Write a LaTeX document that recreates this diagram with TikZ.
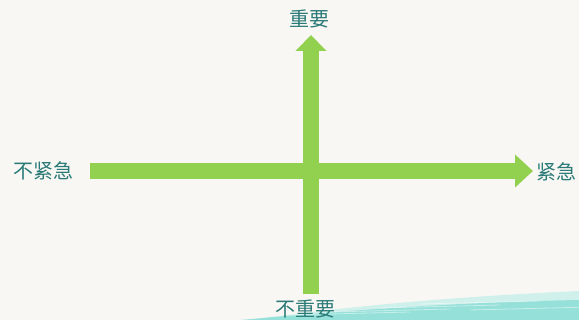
\documentclass[tikz,border=0pt]{standalone}
\usepackage{fontspec}
\newfontfamily\cjk{Noto Sans CJK SC}
\usetikzlibrary{arrows.meta}
\definecolor{paper}{HTML}{F9F7F3}
\definecolor{axisgreen}{HTML}{92D050}
\definecolor{labelteal}{HTML}{2A7A78}
\definecolor{brush}{HTML}{7EDAD4}
\definecolor{brushlight}{HTML}{B5ECE6}
\tikzset{
  axis/.style={draw=axisgreen, line width=16pt, line cap=butt},
  label/.style={text=labelteal, font=\cjk\fontsize{20}{20}\selectfont, inner sep=0pt, anchor=center},
}
\begin{document}
\begin{tikzpicture}[x=1pt,y=-1pt]
\useasboundingbox (0,0) rectangle (579,320);
\fill[paper] (0,0) rectangle (579,320);
% brush strokes bottom right
\fill[brushlight, opacity=0.6] (250,320) .. controls (350,306) and (450,297) .. (579,291) -- (579,320) -- cycle;
\fill[brush, opacity=0.7] (240,320) .. controls (340,311) and (460,302) .. (579,300) -- (579,320) -- cycle;
\foreach \yy/\xx in {304/420, 308/380, 312/330, 315/290, 310/470}{
  \draw[white, opacity=0.45, line width=0.8pt] (\xx,\yy) -- (\xx+120,\yy-3);
}
% labels
\node[label] (top) at (309,19) {重要};
\node[label] (bottom) at (305,309) {不重要};
\node[label] (left) at (43,171) {不紧急};
\node[label] (right) at (556,172) {紧急};
% axis ends
\coordinate (hstart) at (90,171);
\coordinate (hend) at (533,171);
\coordinate (vstart) at (311,294);
\coordinate (vend) at (311,35);
\draw[axis, -{Triangle[width=32pt,length=18pt]}] (hstart) -- (hend);
\draw[axis, -{Triangle[width=30pt,length=16pt]}] (vstart) -- (vend);
\end{tikzpicture}
\end{document}
